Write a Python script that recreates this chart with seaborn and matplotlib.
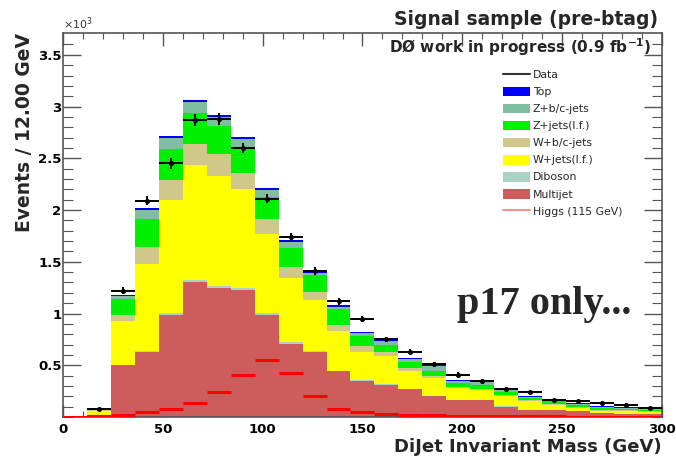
import numpy as np
import pandas as pd
import matplotlib
matplotlib.use("Agg")
import matplotlib.pyplot as plt
from matplotlib.lines import Line2D
from matplotlib.patches import Patch
import seaborn as sns

# ---------------- data (units: 10^3 events per 12 GeV bin) ----------------
bin_edges = np.arange(0, 301, 12)
bin_centers = bin_edges[:-1] + 6

multijet = [0.006, 0.02, 0.50, 0.625, 0.99, 1.30, 1.25, 1.23, 0.99, 0.71, 0.63, 0.44, 0.35,
            0.31, 0.27, 0.20, 0.16, 0.16, 0.10, 0.07, 0.07, 0.06, 0.04, 0.03, 0.03]
diboson = [0, 0, 0.005, 0.01, 0.015, 0.02, 0.02, 0.02, 0.015, 0.012, 0.01, 0.008, 0.006,
           0.005, 0.004, 0.003, 0.003, 0.002, 0.002, 0.002, 0.001, 0.001, 0.001, 0.001, 0.001]
w_lf = [0, 0.04, 0.425, 0.845, 1.095, 1.12, 1.06, 0.95, 0.765, 0.618, 0.49, 0.382, 0.274,
        0.275, 0.166, 0.177, 0.117, 0.098, 0.098, 0.078, 0.049, 0.029, 0.019, 0.029, 0.019]
w_bc = [0, 0.01, 0.06, 0.16, 0.19, 0.20, 0.21, 0.16, 0.14, 0.11, 0.08, 0.06, 0.06,
        0.04, 0.03, 0.02, 0.01, 0.01, 0.01, 0.01, 0.01, 0.01, 0.01, 0.005, 0.005]
z_lf = [0, 0.005, 0.15, 0.27, 0.30, 0.30, 0.27, 0.25, 0.22, 0.18, 0.16, 0.15, 0.09,
        0.07, 0.06, 0.04, 0.04, 0.04, 0.03, 0.02, 0.02, 0.02, 0.02, 0.015, 0.015]
z_bc = [0, 0.003, 0.03, 0.09, 0.11, 0.10, 0.09, 0.08, 0.06, 0.06, 0.02, 0.02, 0.03,
        0.03, 0.03, 0.05, 0.02, 0.04, 0.03, 0.01, 0.01, 0.01, 0.01, 0.01, 0.005]
top = [0, 0.002, 0.01, 0.02, 0.02, 0.02, 0.02, 0.02, 0.02, 0.02, 0.01, 0.02, 0.01,
       0.01, 0.01, 0.01, 0.01, 0.01, 0.01, 0.01, 0.005, 0.005, 0.005, 0.005, 0.005]
higgs = [0, 0.008, 0.015, 0.045, 0.075, 0.135, 0.245, 0.41, 0.55, 0.43, 0.20, 0.08, 0.045,
         0.03, 0.02, 0.015, 0.01, 0.01, 0.008, 0.006, 0.005, 0.004, 0.003, 0.002, 0.002]

data_centers = bin_centers[1:]
data_vals = [0.08, 1.22, 2.09, 2.45, 2.87, 2.88, 2.60, 2.11, 1.74, 1.41, 1.12, 0.95,
             0.75, 0.63, 0.51, 0.41, 0.35, 0.27, 0.24, 0.16, 0.15, 0.14, 0.12, 0.09]

process_names = ["Top", "Z+b/c-jets", "Z+jets(l.f.)", "W+b/c-jets", "W+jets(l.f.)",
                 "Diboson", "Multijet"]
process_values = [top, z_bc, z_lf, w_bc, w_lf, diboson, multijet]
process_colors = ["#0000ff", "#7fbf9f", "#00f000", "#cfc88a", "#ffff00", "#a9d4c4", "#cd5c5c"]

y_ticks = [0.5, 1, 1.5, 2, 2.5, 3, 3.5]
y_ticklabels = ["0.5", "1", "1.5", "2", "2.5", "3", "3.5"]
x_ticks = [0, 50, 100, 150, 200, 250, 300]

# ---------------- build table ----------------
rows = []
for name, vals in zip(process_names, process_values):
    for c, v in zip(bin_centers, vals):
        rows.append((float(c), float(v), name))
df = pd.DataFrame(rows, columns=["mass", "weight", "process"])

sns.set_style("ticks")
plt.rcParams["font.family"] = ["DejaVu Sans"]

fig = plt.figure(figsize=(6.76, 4.62), dpi=100)
ax = fig.add_axes([0.0932, 0.0974, 0.886, 0.831])

sns.histplot(data=df, x="mass", weights="weight", hue="process",
             hue_order=process_names, palette=dict(zip(process_names, process_colors)),
             multiple="stack", binwidth=12, binrange=(0, 300), element="step", fill=True,
             alpha=1, linewidth=0, legend=False, ax=ax)

# Higgs signal (horizontal segments)
ax.hlines(higgs, bin_edges[:-1], bin_edges[1:], colors="#ff0000", linewidth=2.2, zorder=4)

# Data with errors
data_err = [np.sqrt(v * 1000) / 1000 for v in data_vals]
ax.errorbar(data_centers, data_vals, xerr=6, yerr=data_err, fmt="o", ms=2.6,
            color="black", elinewidth=1.4, capsize=0, zorder=5)

ax.set_xlim(0, 300)
ax.set_ylim(0, 3.71)
ax.set_xticks(x_ticks)
ax.set_xticklabels([str(t) for t in x_ticks])
ax.set_yticks(y_ticks)
ax.set_yticklabels(y_ticklabels)
ax.set_xticks(np.arange(0, 301, 10), minor=True)
ax.set_yticks(np.arange(0, 3.7, 0.1), minor=True)
ax.tick_params(which="both", direction="in", top=True, right=True, colors="#555555",
               labelcolor="black")
ax.tick_params(axis="x", which="major", length=9, width=1, pad=4)
ax.tick_params(axis="x", which="minor", length=4, width=0.8)
ax.tick_params(axis="y", which="major", length=13, width=1, pad=1)
ax.tick_params(axis="y", which="minor", length=7, width=0.8)
for lab in ax.get_xticklabels() + ax.get_yticklabels():
    lab.set_fontweight("bold")
    lab.set_fontsize(9.5)
for s in ax.spines.values():
    s.set_color("#555555")
    s.set_linewidth(1.2)

ax.set_xlabel("DiJet Invariant Mass (GeV)", loc="right", fontsize=13, fontweight="bold",
              labelpad=2)
ax.set_ylabel("Events / 12.00 GeV", loc="top", fontsize=13.5, fontweight="bold", labelpad=3)

ax.text(0.0, 1.004, r"$\times10^{3}$", transform=ax.transAxes, fontsize=8,
        ha="left", va="bottom", color="#333333")
fig.text(0.973, 0.958, "Signal sample (pre-btag)", ha="right", va="center",
         fontsize=13.5, fontweight="bold")
ax.text(0.982, 0.963, r"DØ work in progress (0.9 fb$^{\mathbf{-1}}$)", transform=ax.transAxes,
        ha="right", va="center", fontsize=11, fontweight="bold")
ax.text(0.803, 0.292, "p17 only...", transform=ax.transAxes, ha="center", va="center",
        fontsize=29, fontweight="bold", family="Liberation Serif")

handles = [Line2D([], [], color="#333333", lw=1.5)]
handles += [Patch(facecolor=c, edgecolor="none") for c in process_colors]
handles += [Line2D([], [], color="#ff9090", lw=1.5)]
labels = ["Data"] + process_names + ["Higgs (115 GeV)"]
ax.legend(handles, labels, loc="upper left", bbox_to_anchor=(0.734, 0.905),
          frameon=False, fontsize=7.8, labelspacing=0.6, handlelength=2.5,
          handleheight=1.0, handletextpad=0.3, borderpad=0, borderaxespad=0)

fig.savefig("out.png", dpi=100, facecolor="white")
